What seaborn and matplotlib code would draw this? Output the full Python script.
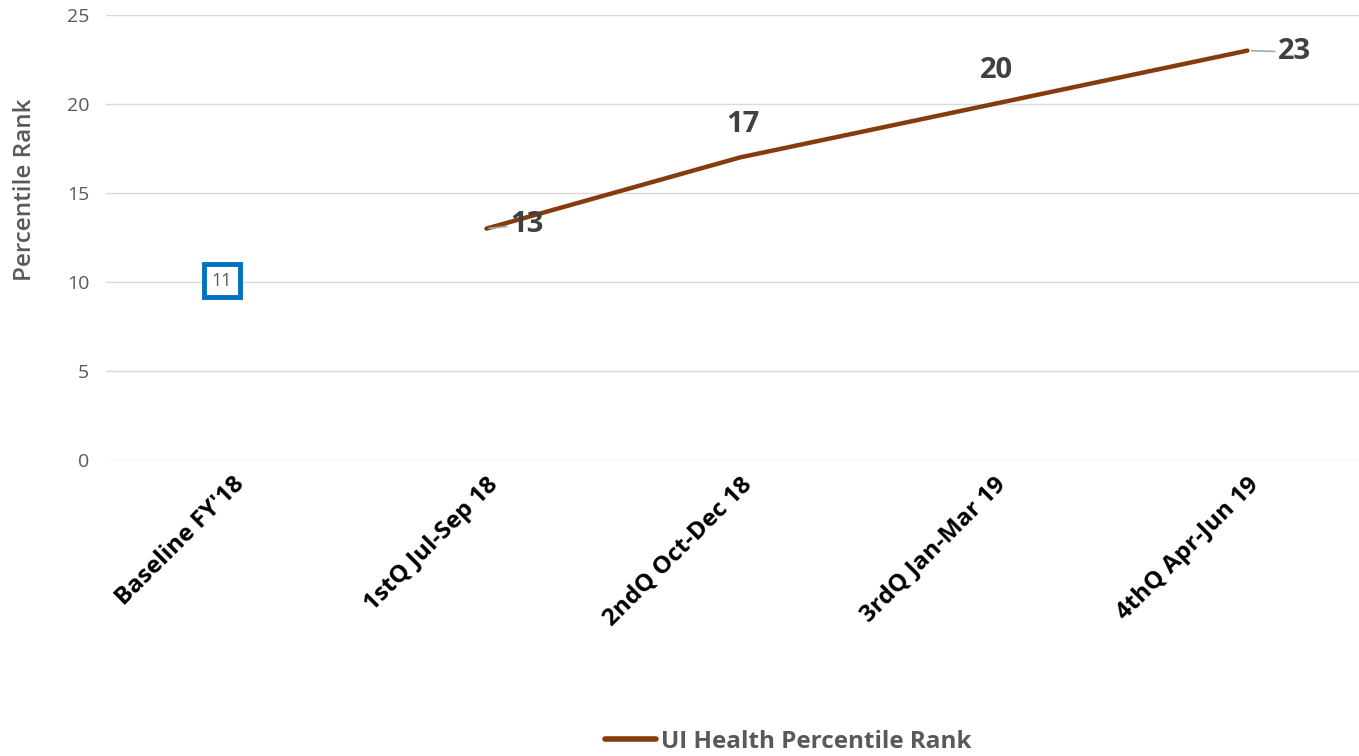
import numpy as np
import pandas as pd
import matplotlib
matplotlib.use("Agg")
import matplotlib.pyplot as plt
import seaborn as sns

# Quarterly percentile rank data
categories = ["Baseline FY'18", "1stQ Jul-Sep 18", "2ndQ Oct-Dec 18",
              "3rdQ Jan-Mar 19", "4thQ Apr-Jun 19"]
rank_values = [np.nan, 13, 17, 20, 23]
baseline_value = 11
series_name = "UI Health Percentile Rank"
y_ticks = [0, 5, 10, 15, 20, 25]

LINE_COLOR = "#843C0C"
GRID_COLOR = "#D9D9D9"
TICK_GRAY = "#595959"
LABEL_GRAY = "#404040"

sns.set_theme(style="white")
plt.rcParams["font.family"] = ["Open Sans", "DejaVu Sans"]

fig = plt.figure(figsize=(13.59, 7.56), dpi=100)
ax = fig.add_axes([106 / 1359, 1 - 460 / 756, (1359 - 106) / 1359, 445 / 756])

df = pd.DataFrame({"pos": range(len(categories)), "rank": rank_values,
                   "series": series_name})
sns.lineplot(data=df.dropna(), x="pos", y="rank", hue="series",
             palette=[LINE_COLOR], linewidth=3.2, ax=ax,
             solid_capstyle="round")

ax.set_xlim(-0.5, 4.44)
ax.set_ylim(0, 25)
ax.set_yticks(y_ticks)
ax.set_yticklabels([str(t) for t in y_ticks], color=TICK_GRAY, fontsize=14)
ax.set_xticks(range(len(categories)))
ax.set_xticklabels(categories, rotation=45, ha="right", va="top",
                   rotation_mode="anchor", fontsize=17.5, fontweight="bold",
                   color="black")
ax.tick_params(axis="y", length=0, pad=12)
ax.tick_params(axis="x", length=0, pad=9)
ax.grid(axis="y", color=GRID_COLOR, linewidth=1)
ax.grid(axis="x", visible=False)
for s in ax.spines.values():
    s.set_visible(False)

ax.set_xlabel("")
ax.set_ylabel("Percentile Rank", color=TICK_GRAY, fontsize=17.5,
              fontweight="semibold")
ax.yaxis.set_label_coords(-0.055, 0.607)

# Data labels
label_kw = dict(fontsize=21, fontweight="bold", color=LABEL_GRAY)
for i, v in enumerate(rank_values):
    if np.isnan(v):
        continue
    if i == 1:
        ax.annotate(f"{v:.0f}", xy=(i, v), xytext=(17, 3),
                    textcoords="offset points", ha="left", va="center",
                    arrowprops=dict(arrowstyle="-", color="#A6A6A6", lw=1.2,
                                    shrinkA=0, shrinkB=2),
                    **label_kw)
    elif i == 4:
        ax.annotate(f"{v:.0f}", xy=(i, v), xytext=(22, -1),
                    textcoords="offset points", ha="left", va="center",
                    arrowprops=dict(arrowstyle="-", color="#A6A6A6", lw=1.2,
                                    shrinkA=0, shrinkB=3),
                    **label_kw)
    else:
        ax.annotate(f"{v:.0f}", xy=(i, v), xytext=(2, 24),
                    textcoords="offset points", ha="center", va="center",
                    **label_kw)

# Baseline value box
ax.annotate(str(baseline_value), xy=(0, baseline_value), xytext=(-8, -12),
            textcoords="offset points", ha="center", va="center",
            fontsize=13, color=TICK_GRAY,
            bbox=dict(boxstyle="square,pad=0.42", fc="white", ec="#0070C0",
                      lw=3.5))

# Legend at bottom
leg = ax.legend(loc="center", bbox_to_anchor=(788 / 1359, 1 - 742 / 756),
                bbox_transform=fig.transFigure, frameon=False,
                handlelength=2.1, handletextpad=0.2, fontsize=17.5)
for t in leg.get_texts():
    t.set_color(TICK_GRAY)
    t.set_fontweight("bold")
for h in leg.get_lines():
    h.set_linewidth(4)

fig.savefig("out.png", dpi=100)
